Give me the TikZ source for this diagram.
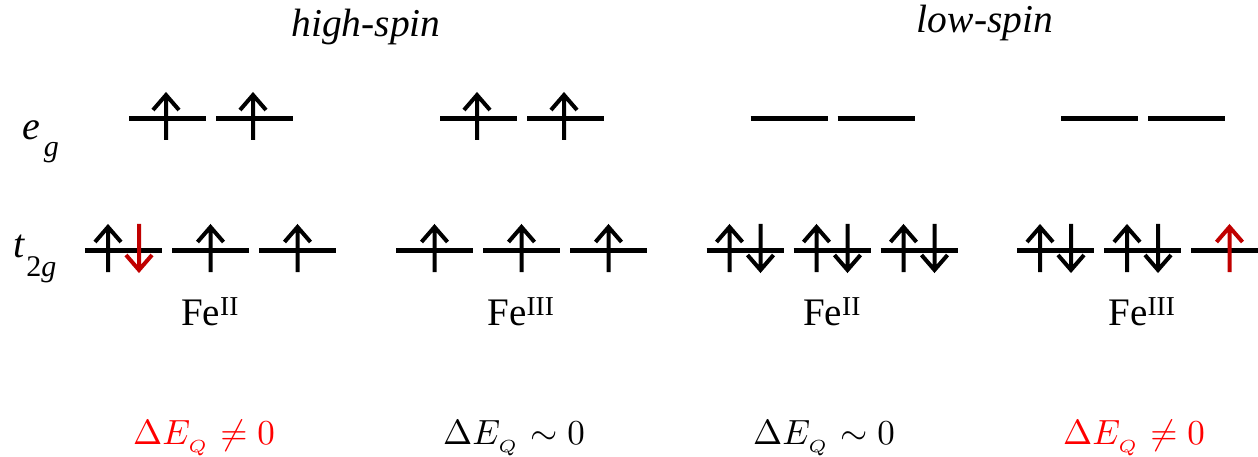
\documentclass[tikz,border=0pt]{standalone}
\usepackage{fontspec}
\setmainfont{Liberation Serif}
\definecolor{arrred}{HTML}{C00000}
\definecolor{dered}{HTML}{FF0000}
\begin{document}
\begin{tikzpicture}[x=1pt,y=-1pt,
  level/.style={line width=4.5pt},
  spin/.style={line width=4pt,line join=miter,miter limit=10},
  uparr/.pic={\draw[spin,pic actions] (0,21.5) -- (0,-23.5) (-13,-8.5) -- (0,-23.5) -- (13,-8.5);},
  dnarr/.pic={\draw[spin,pic actions] (0,-26.5) -- (0,19.5) (-13,4.5) -- (0,19.5) -- (13,4.5);},
  lab/.style={anchor=base,inner sep=0pt},
  big/.style={font=\fontsize{40}{40}\selectfont},
  fe/.style={lab,font=\fontsize{39}{39}\selectfont},
  dq/.style={lab,font=\fontsize{10}{12}\selectfont},
]
\useasboundingbox (0,0) rectangle (1258,457);
\clip (0,0) rectangle (1258,457);
% titles
\node[lab,font=\fontsize{39.5}{40}\selectfont\itshape] (hs) at (366,37) {high-spin};
\node[lab,font=\fontsize{39.5}{40}\selectfont\itshape] (ls) at (985,33) {low-spin};
% level labels
\node[anchor=base west,inner sep=0pt,big] (eg) at (22,140) {\itshape e\kern4pt\raisebox{-17pt}{\fontsize{30}{30}\selectfont g}};
\node[anchor=base west,inner sep=0pt,big] (t2g) at (13,258) {\itshape t\kern2pt\raisebox{-19pt}{\fontsize{30}{30}\selectfont\upshape 2\itshape g}};
% levels
\foreach \x in {85,396,706.5,1017} {
  \foreach \i in {0,1,2} \draw[level] ({\x+87*\i},250.5) -- ++(77,0);
  \foreach \i in {0,1} \draw[level] ({\x+44+87*\i},118.5) -- ++(77,0);
}
% group 1: high-spin Fe II
\pic at (166,118.5) {uparr};
\pic at (253,118.5) {uparr};
\pic at (108,250.5) {uparr};
\pic[draw=arrred] at (139,250.5) {dnarr};
\pic at (210.5,250.5) {uparr};
\pic at (297.5,250.5) {uparr};
% group 2: high-spin Fe III
\pic at (477,118.5) {uparr};
\pic at (564,118.5) {uparr};
\pic at (434.5,250.5) {uparr};
\pic at (521.5,250.5) {uparr};
\pic at (608.5,250.5) {uparr};
% group 3: low-spin Fe II
\foreach \c in {745,832,919} {
  \pic at ({\c-15.5},250.5) {uparr};
  \pic at ({\c+15.5},250.5) {dnarr};
}
% group 4: low-spin Fe III
\foreach \c in {1055.5,1142.5} {
  \pic at ({\c-15.5},250.5) {uparr};
  \pic at ({\c+15.5},250.5) {dnarr};
}
\pic[draw=arrred] at (1229.5,250.5) {uparr};
% Fe labels
\node[fe] (fe1) at (210,325) {Fe\textsuperscript{II}};
\node[fe] (fe2) at (521,325) {Fe\textsuperscript{III}};
\node[fe] (fe3) at (832,325) {Fe\textsuperscript{II}};
\node[fe] (fe4) at (1142,325) {Fe\textsuperscript{III}};
% quadrupole splitting
\node[dq,text=dered] (q1) at (204,444) {\scalebox{3.5}{$\Delta E_{_Q}\neq 0$}};
\node[dq] (q2) at (514,444) {\scalebox{3.5}{$\Delta E_{_Q}\sim 0$}};
\node[dq] (q3) at (824,444) {\scalebox{3.5}{$\Delta E_{_Q}\sim 0$}};
\node[dq,text=dered] (q4) at (1134,444) {\scalebox{3.5}{$\Delta E_{_Q}\neq 0$}};
\end{tikzpicture}
\end{document}
